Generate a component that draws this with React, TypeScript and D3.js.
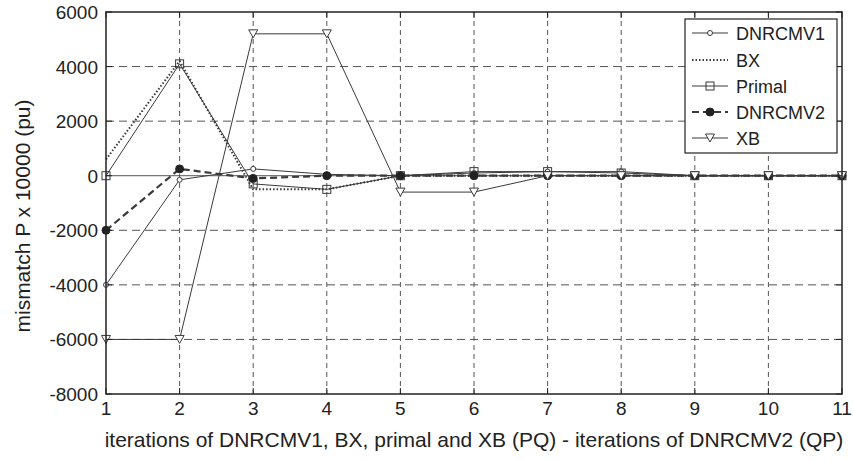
import React from "react";
import * as d3 from "d3";

const iterations = [1, 2, 3, 4, 5, 6, 7, 8, 9, 10, 11];
const dnrcmv1 = [-4000, -150, 250, 50, 0, 100, 150, 150, 0, 0, 0];
const bx = [600, 4200, -500, -500, 0, 0, 0, 0, 0, 0, 0];
const primal = [0, 4100, -300, -500, 0, 150, 150, 100, 0, 0, 0];
const dnrcmv2 = [-2000, 250, -100, 0, 0, 0, 0, 0, 0, 0, 0];
const xb = [-6000, -6000, 5200, 5200, -600, -600, 0, 0, 0, 0, 0];
const yTicks = [-8000, -6000, -4000, -2000, 0, 2000, 4000, 6000];
const seriesNames = ["DNRCMV1", "BX", "Primal", "DNRCMV2", "XB"];

const W = 853, H = 461;
const L = 106, R = 842, T = 12, B = 394;
const FONT = "'Liberation Sans', Arial, sans-serif";
const C = "#3a3a3a";

export default function App() {
  const x = d3.scaleLinear().domain([1, 11]).range([L, R]);
  const y = d3.scaleLinear().domain([-8000, 6000]).range([B, T]);
  const line = d3.line<number>().x((_, i) => x(iterations[i])).y((d) => y(d));

  const series = [
    { name: seriesNames[0], data: dnrcmv1, dash: "", w: 1, marker: "dot" },
    { name: seriesNames[1], data: bx, dash: "1.5 2", w: 2, marker: "none" },
    { name: seriesNames[2], data: primal, dash: "", w: 1, marker: "square" },
    { name: seriesNames[3], data: dnrcmv2, dash: "7 4", w: 2.2, marker: "star" },
    { name: seriesNames[4], data: xb, dash: "", w: 1, marker: "tri" },
  ];

  const marker = (m: string, cx: number, cy: number, key: string) => {
    if (m === "dot")
      return <circle key={key} cx={cx} cy={cy} r={2.5} fill="#fff" stroke={C} strokeWidth={1} />;
    if (m === "square")
      return <rect key={key} x={cx - 4} y={cy - 4} width={8} height={8} fill="none" stroke={C} strokeWidth={1} />;
    if (m === "star")
      return <circle key={key} cx={cx} cy={cy} r={4} fill="#222" stroke="#222" />;
    if (m === "tri")
      return <path key={key} d={`M${cx - 4.5},${cy - 4}L${cx + 4.5},${cy - 4}L${cx},${cy + 4}Z`} fill="#fff" stroke={C} strokeWidth={1} />;
    return null;
  };

  const lx = 685, ly = 19, lw = 152, lh = 134;
  const legendY = [33, 60, 86, 112, 138];

  return (
    <svg width={W} height={H} style={{ position: "absolute", left: 0, top: 0, background: "#fff" }}>
      <rect width={W} height={H} fill="#fff" />
      {/* grid */}
      {iterations.slice(1, -1).map((v) => (
        <line key={"gx" + v} x1={x(v)} x2={x(v)} y1={T} y2={B} stroke="#555" strokeWidth={1} strokeDasharray="5 4" />
      ))}
      {yTicks.slice(1, -1).map((v) => (
        <line key={"gy" + v} x1={L} x2={R} y1={y(v)} y2={y(v)} stroke="#555" strokeWidth={1}
          strokeDasharray={v === 0 ? "" : "8 5"} />
      ))}
      {/* series */}
      {series.map((s) => (
        <g key={s.name}>
          <path d={line(s.data) || ""} fill="none" stroke={C} strokeWidth={s.w} strokeDasharray={s.dash} />
          {s.data.map((d, i) => marker(s.marker, x(iterations[i]), y(d), s.name + i))}
        </g>
      ))}
      {/* frame */}
      <rect x={L} y={T} width={R - L} height={B - T} fill="none" stroke="#222" strokeWidth={1.5} />
      {iterations.map((v) => (
        <g key={"tx" + v}>
          <line x1={x(v)} x2={x(v)} y1={B} y2={B - 6} stroke="#222" />
          <line x1={x(v)} x2={x(v)} y1={T} y2={T + 6} stroke="#222" />
          <text x={x(v)} y={415} textAnchor="middle" fontFamily={FONT} fontSize={19} fill="#222">{v}</text>
        </g>
      ))}
      {yTicks.map((v) => (
        <g key={"ty" + v}>
          <line x1={L} x2={L + 6} y1={y(v)} y2={y(v)} stroke="#222" />
          <line x1={R} x2={R - 6} y1={y(v)} y2={y(v)} stroke="#222" />
          <text x={L - 8} y={y(v) + 7} textAnchor="end" fontFamily={FONT} fontSize={19} fill="#222">{v}</text>
        </g>
      ))}
      {/* legend */}
      <rect x={lx} y={ly} width={lw} height={lh} fill="#fff" stroke="#222" strokeWidth={1.2} />
      {series.map((s, i) => (
        <g key={"lg" + s.name}>
          <line x1={692} x2={728} y1={legendY[i]} y2={legendY[i]} stroke={C} strokeWidth={s.w} strokeDasharray={s.dash} />
          {marker(s.marker, 710, legendY[i], "lm" + i)}
          <text x={736} y={legendY[i] + 7} fontFamily={FONT} fontSize={18} fill="#222">{s.name}</text>
        </g>
      ))}
      {/* axis labels */}
      <text x={474} y={447} textAnchor="middle" fontFamily={FONT} fontSize={21} fill="#222">
        iterations of DNRCMV1, BX, primal and XB (PQ) - iterations of DNRCMV2 (QP)
      </text>
      <text transform="translate(30,216) rotate(-90)" textAnchor="middle" fontFamily={FONT} fontSize={21} fill="#222">
        mismatch P x 10000 (pu)
      </text>
    </svg>
  );
}
